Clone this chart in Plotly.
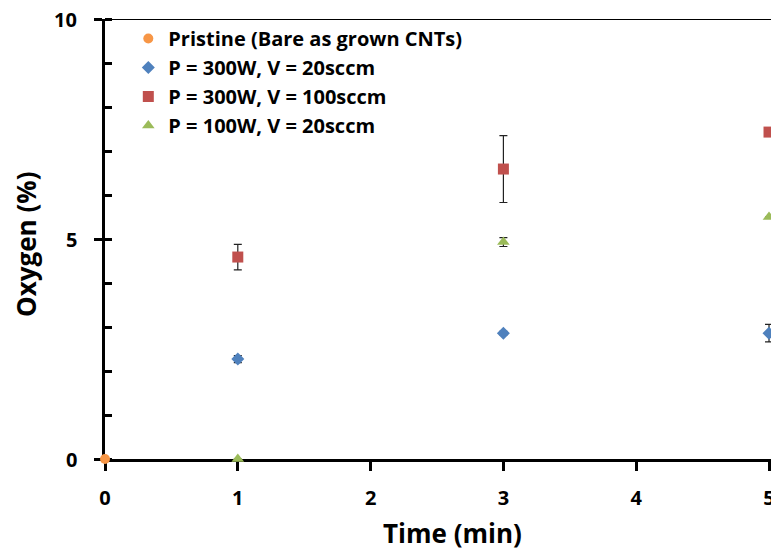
import plotly.graph_objects as go

# Data
pristine_x = [0]
pristine_y = [0]

s1_name = "P = 300W, V = 20sccm"
s1_x = [1, 3, 5]
s1_y = [2.27, 2.86, 2.86]
s1_err = [0.08, 0.04, 0.2]

s2_name = "P = 300W, V = 100sccm"
s2_x = [1, 3, 5]
s2_y = [4.59, 6.59, 7.43]
s2_err = [0.29, 0.76, 0.0]

s3_name = "P = 100W, V = 20sccm"
s3_x = [1, 3, 5]
s3_y = [0.0, 4.93, 5.5]
s3_err = [0.0, 0.1, 0.0]

x_ticks = [0, 1, 2, 3, 4, 5]
y_ticks = [0, 5, 10]
x_title = "Time (min)"
y_title = "Oxygen (%)"

FONT = "Open Sans"
err_style = dict(type="data", color="#222222", thickness=1.2, width=4)

fig = go.Figure()
fig.add_trace(go.Scatter(x=pristine_x, y=pristine_y, mode="markers",
                         name="Pristine (Bare as grown CNTs)", legendgroup="a",
                         marker=dict(symbol="circle", size=10, color="#F79646"),
                         cliponaxis=False))
fig.add_trace(go.Scatter(x=s1_x, y=s1_y, mode="markers", name=s1_name, legendgroup="b",
                         error_y=dict(array=s1_err, **err_style),
                         marker=dict(symbol="diamond", size=10, color="#4F81BD")))
fig.add_trace(go.Scatter(x=s2_x, y=s2_y, mode="markers", name=s2_name, legendgroup="c",
                         error_y=dict(array=s2_err, **err_style),
                         marker=dict(symbol="square", size=11, color="#C0504D")))
fig.add_trace(go.Scatter(x=s3_x, y=s3_y, mode="markers", name=s3_name, legendgroup="d",
                         error_y=dict(array=s3_err, **err_style),
                         marker=dict(symbol="triangle-up", size=11, color="#9BBB59"),
                         cliponaxis=False))
# overlay axis for the inside part of major y ticks
fig.add_trace(go.Scatter(x=[0], y=[0], mode="markers", yaxis="y2",
                         marker=dict(opacity=0), showlegend=False, hoverinfo="skip"))

annotations = [
    dict(text=x_title, xref="paper", yref="paper", x=(452 - 105) / 666, y=-(533 - 459) / 440,
         xanchor="center", yanchor="middle", showarrow=False,
         font=dict(family=FONT, size=26, weight="bold", color="black")),
    dict(text=y_title, xref="paper", yref="paper", x=-(105 - 26) / 666, y=(459 - 245) / 440,
         xanchor="center", yanchor="middle", showarrow=False, textangle=-90,
         font=dict(family=FONT, size=26, weight="bold", color="black")),
]
# y tick labels, placed further from the axis than Plotly's default
for v in y_ticks:
    annotations.append(dict(text=str(v), xref="paper", yref="y", x=-(105 - 79) / 666, y=v,
                            xanchor="right", yanchor="middle", showarrow=False,
                            font=dict(family=FONT, size=20, weight="bold", color="black")))

fig.update_layout(
    width=771, height=550,
    margin=dict(l=105, r=0, t=19, b=91, autoexpand=False),
    paper_bgcolor="white", plot_bgcolor="white",
    font=dict(family=FONT, color="black"),
    showlegend=True,
    legend=dict(x=0.035, y=1.0, xanchor="left", yanchor="top",
                font=dict(family=FONT, size=20, color="black", weight="bold"),
                bgcolor="rgba(0,0,0,0)", traceorder="grouped", tracegroupgap=0,
                itemsizing="trace", itemwidth=30),
    xaxis=dict(range=[0, 5.015], tickvals=x_ticks, ticks="outside", ticklen=9,
               tickwidth=2.5, tickcolor="black", showline=True, linewidth=3,
               linecolor="black", showgrid=False, zeroline=False, automargin=False,
               layer="below traces", ticklabeloverflow="allow", ticklabelstandoff=10,
               tickfont=dict(family=FONT, size=20, weight="bold")),
    yaxis=dict(range=[0, 10], tickvals=y_ticks, ticks="outside", ticklen=8,
               tickwidth=2.5, tickcolor="black", showline=True, linewidth=3,
               linecolor="black", showgrid=False, zeroline=False, automargin=False,
               layer="below traces", showticklabels=False,
               minor=dict(ticks="inside", dtick=1, ticklen=7, tickwidth=2.5,
                          tickcolor="black", showgrid=False)),
    yaxis2=dict(range=[0, 10], overlaying="y", side="left", tickvals=y_ticks,
                ticks="inside", ticklen=7, tickwidth=2.5, tickcolor="black",
                layer="below traces", automargin=False, showticklabels=False,
                showline=False, showgrid=False, zeroline=False),
    shapes=[dict(type="line", xref="paper", yref="y", x0=0, x1=1, y0=10, y1=10,
                 layer="below", line=dict(color="black", width=2))],
    annotations=annotations,
)

fig.write_html("out.html", config={"displayModeBar": False},
               post_script="document.body.style.margin='0';document.body.style.overflow='hidden';")
